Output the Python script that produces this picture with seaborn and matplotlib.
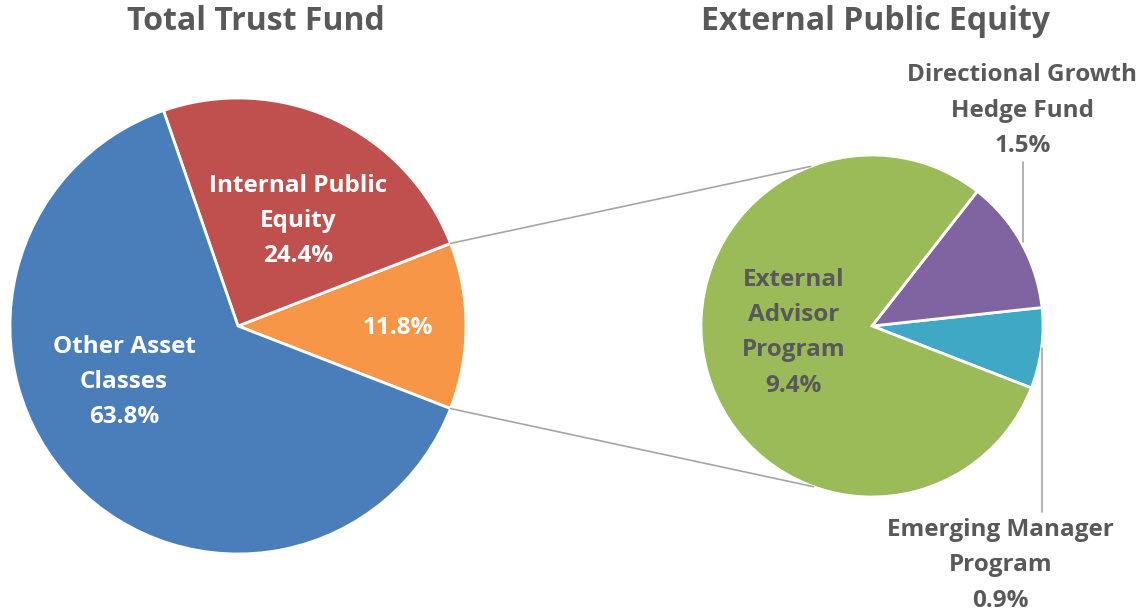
import matplotlib
matplotlib.use("Agg")
import matplotlib.pyplot as plt
import seaborn as sns
from matplotlib.patches import ConnectionPatch
import numpy as np

# data
total_labels = ["External Public Equity", "Internal Public Equity", "Other Asset Classes"]
total_values = [11.8, 24.4, 63.8]
total_colors = ["#F79646", "#C0504D", "#4A7EBB"]

ext_labels = ["Emerging Manager Program", "Directional Growth Hedge Fund", "External Advisor Program"]
ext_values = [0.9, 1.5, 9.4]
ext_colors = ["#3FA9C5", "#8064A2", "#9BBB59"]

sns.set_theme(style="white")
plt.rcParams["font.family"] = ["Open Sans", "DejaVu Sans"]

TEXT = "#595959"

fig = plt.figure(figsize=(11.41, 6.15), dpi=100)
W, H = 1141, 615

def pie_axes(cx, cy, r):
    ax = fig.add_axes([(cx - r) / W, (H - cy - r) / H, 2 * r / W, 2 * r / H])
    ax.axis("off")
    return ax

ax1 = pie_axes(238, 326, 228)
ax2 = pie_axes(872, 326, 171)

start = -total_values[0] / 100 * 360 / 2
w1, _ = ax1.pie(total_values, colors=total_colors, startangle=start, radius=1,
                wedgeprops=dict(edgecolor="white", linewidth=2))
w2, _ = ax2.pie(ext_values, colors=ext_colors, startangle=start, radius=1,
                wedgeprops=dict(edgecolor="white", linewidth=2))
for ax in (ax1, ax2):
    ax.set_xlim(-1, 1)
    ax.set_ylim(-1, 1)
    ax.set_aspect("equal")

lab = dict(ha="center", va="center", fontsize=17.5, fontweight="bold", linespacing=1.62)
ax1.text(-0.50, -0.245, f"Other Asset\nClasses\n{total_values[2]}%", color="white", **lab)
ax1.text(0.265, 0.46, f"Internal Public\nEquity\n{total_values[1]}%", color="white", **lab)
ax1.text(0.70, -0.01, f"{total_values[0]}%", color="white", **lab)

ax2.text(-0.46, -0.04, f"External\nAdvisor\nProgram\n{ext_values[2]}%", color=TEXT, **lab)
ax2.text(0.88, 1.26, f"Directional Growth\nHedge Fund\n{ext_values[1]}%", color=TEXT,
         clip_on=False, **lab)
ax2.text(0.75, -1.40, f"Emerging Manager\nProgram\n{ext_values[0]}%", color=TEXT,
         clip_on=False, **lab)

# leader lines
ax2.plot([0.883, 0.883], [0.96, 0.49], color="#A6A6A6", lw=1.2, clip_on=False)
ax2.plot([0.994, 0.994], [-0.13, -1.09], color="#A6A6A6", lw=1.2, clip_on=False)

# connectors from the orange wedge to the right pie
t1, t2 = w1[0].theta1, w1[0].theta2
for a_left, a_right in [(t2, 111), (t1, 250)]:
    p1 = (np.cos(np.radians(a_left)), np.sin(np.radians(a_left)))
    p2 = (np.cos(np.radians(a_right)), np.sin(np.radians(a_right)))
    con = ConnectionPatch(xyA=p1, coordsA=ax1.transData, xyB=p2, coordsB=ax2.transData,
                          color="#A6A6A6", lw=1.2)
    fig.add_artist(con)

fig.text(256 / W, 1 - 21 / H, "Total Trust Fund", ha="center", va="center",
         fontsize=23, fontweight="bold", color=TEXT)
fig.text(876 / W, 1 - 21 / H, "External Public Equity", ha="center", va="center",
         fontsize=23, fontweight="bold", color=TEXT)

fig.savefig("out.png", dpi=100, facecolor="white")
